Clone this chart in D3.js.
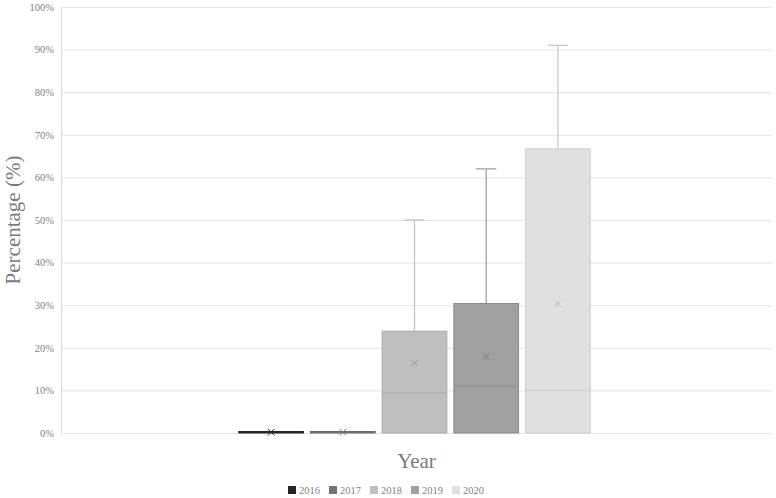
<!DOCTYPE html>
<html><head><meta charset="utf-8">
<script src="https://cdn.jsdelivr.net/npm/d3@7"></script>
<style>body{margin:0;background:#fff}svg{display:block}</style>
</head><body>
<script>
const categories = ["Year"];
const years = ["2016","2017","2018","2019","2020"];
const minVals    = [0, 0, 0, 0, 0];
const q1Vals     = [0, 0, 0, 0, 0];
const medianVals = [0, 0, 9.4, 11.0, 10.0];
const q3Vals     = [0.3, 0.3, 23.9, 30.4, 66.7];
const maxVals    = [0.3, 0.3, 50, 62, 91];
const meanVals   = [0.2, 0.2, 16.4, 17.9, 30.4];
const yTicks = [0,10,20,30,40,50,60,70,80,90,100];

const fills   = ["#262626","#737373","#bfbfbf","#a0a0a0","#e0e0e0"];
const strokes = ["#262626","#6a6a6a","#a9a9a9","#8c8c8c","#cccccc"];
const whisk   = ["#262626","#6a6a6a","#bfbfbf","#9a9a9a","#c6c6c6"];
const W = 776, H = 498;
const svg = d3.select("body").append("svg").attr("width",W).attr("height",H);
const y = d3.scaleLinear().domain([0,100]).range([433,7]);
const xCat = d3.scaleBand().domain(categories).range([61,768]).paddingOuter(0.486);
const x = d3.scaleBand().domain(years)
  .range([xCat("Year"), xCat("Year")+xCat.bandwidth()])
  .paddingInner(0.084).paddingOuter(0.042);

// gridlines
svg.append("g").selectAll("line").data(yTicks).join("line")
  .attr("x1",61).attr("x2",772).attr("y1",d=>y(d)+0.5).attr("y2",d=>y(d)+0.5)
  .attr("stroke","#e4e4e4").attr("stroke-width",1);
// left axis line
svg.append("line").attr("x1",61.5).attr("x2",61.5).attr("y1",y(100)).attr("y2",y(0))
  .attr("stroke","#d9d9d9");
// y axis labels
const yAxis = d3.axisLeft(y).tickValues(yTicks).tickSize(0).tickPadding(7).tickFormat(d=>d+"%");
const ga = svg.append("g").attr("transform","translate(61,0)").call(yAxis);
ga.select(".domain").remove();
ga.selectAll("text").attr("font-family","'Liberation Serif', serif").attr("font-size","10.5px").attr("fill","#7f7f7f");

const data = years.map((yr,i)=>({yr,i,min:minVals[i],q1:q1Vals[i],med:medianVals[i],q3:q3Vals[i],max:maxVals[i],mean:meanVals[i]}));
const g = svg.append("g");
data.forEach(d=>{
  const x0 = x(d.yr), bw = x.bandwidth(), cx = x0+bw/2;
  if (d.max > d.q3 + 0.5) {
    g.append("line").attr("x1",cx).attr("x2",cx).attr("y1",y(d.q3)).attr("y2",y(d.max))
      .attr("stroke",whisk[d.i]).attr("stroke-width",1.2);
    g.append("line").attr("x1",cx-10).attr("x2",cx+10).attr("y1",y(d.max)).attr("y2",y(d.max))
      .attr("stroke",whisk[d.i]).attr("stroke-width",1.2);
  }
  const h = Math.max(y(d.q1)-y(d.q3), 1.5);
  g.append("rect").attr("x",x0+0.5).attr("y",y(d.q1)-h).attr("width",bw-1).attr("height",h)
    .attr("fill",fills[d.i]).attr("stroke",strokes[d.i]).attr("stroke-width",1);
  if (d.med > 0) {
    g.append("line").attr("x1",x0+0.5).attr("x2",x0+bw-0.5).attr("y1",y(d.med)).attr("y2",y(d.med))
      .attr("stroke",strokes[d.i]).attr("stroke-width",1);
  }
  const my = y(d.mean), s = 3.2;
  const mc = d.i<2 ? fills[d.i] : d3.color(strokes[d.i]).darker(0.3);
  g.append("path").attr("d",`M${cx-s},${my-s}L${cx+s},${my+s}M${cx-s},${my+s}L${cx+s},${my-s}`)
    .attr("stroke",mc).attr("stroke-width",1).attr("fill","none");
});

// axis titles
svg.append("text").attr("x",416.5).attr("y",468).attr("text-anchor","middle")
  .attr("font-family","'Liberation Serif', serif").attr("font-size","21px").attr("fill","#7a7a7a").text("Year");
svg.append("text").attr("transform","translate(20,220) rotate(-90)").attr("text-anchor","middle")
  .attr("font-family","'Liberation Serif', serif").attr("font-size","21px").attr("fill","#7a7a7a").text("Percentage (%)");

// legend
const leg = svg.append("g");
years.forEach((yr,i)=>{
  const lx = 288 + i*41;
  leg.append("rect").attr("x",lx).attr("y",486).attr("width",8).attr("height",8).attr("fill",fills[i]);
  leg.append("text").attr("x",lx+11).attr("y",494).attr("font-family","'Liberation Serif', serif")
    .attr("font-size","10.5px").attr("fill","#7f7f7f").text(yr);
});
</script>
</body></html>
